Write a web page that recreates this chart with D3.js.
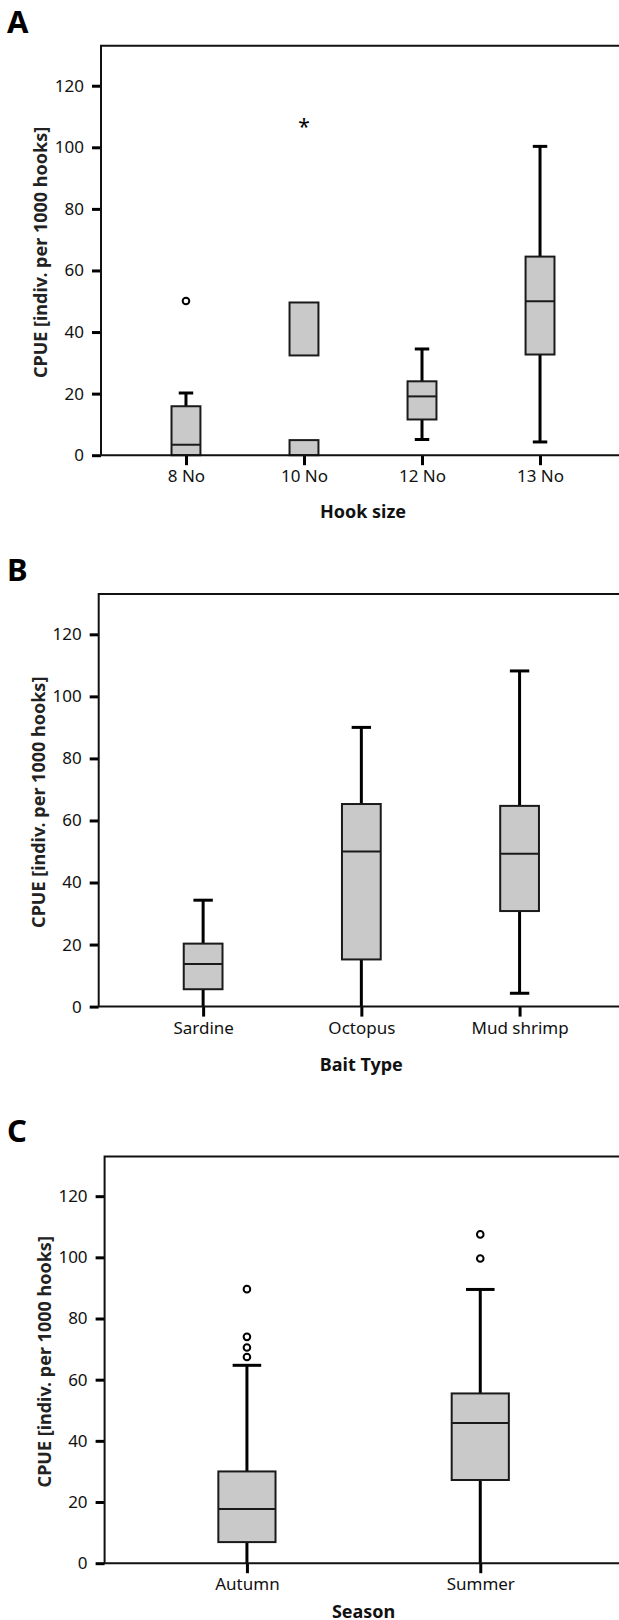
<!DOCTYPE html>
<html>
<head>
<meta charset="utf-8">
<script src="https://cdn.jsdelivr.net/npm/d3@7"></script>
<style>
  body { margin: 0; background: #fff; }
  svg { display: block; font-family: "Noto Sans", sans-serif; }
</style>
</head>
<body>
<svg id="chart" width="619" height="1620"></svg>
<script>
// panel A: hook size
var hookSizes = ["8 No", "10 No", "12 No", "13 No"];
var hookLow = [0, null, 5.1, 4.3];
var hookQ1 = [0, 0, 11.6, 32.7];
var hookMedian = [3.4, null, 19.1, 50];
var hookQ3 = [15.9, 4.9, 24.0, 64.5];
var hookHigh = [20.2, null, 34.5, 100.3];
var hookOutliers = [[50.1], [], [], []];
var hookExtremes = [[], [107.6], [], []];
// 10 No has a second, detached box
var hookExtraBox = [null, [32.4, 49.6], null, null];

// panel B: bait type
var baitTypes = ["Sardine", "Octopus", "Mud shrimp"];
var baitLow = [0, 0, 4.3];
var baitQ1 = [5.6, 15.2, 30.8];
var baitMedian = [13.7, 50, 49.3];
var baitQ3 = [20.3, 65.3, 64.7];
var baitHigh = [34.3, 90, 108.2];

// panel C: season
var seasons = ["Autumn", "Summer"];
var seasonLow = [0, 0];
var seasonQ1 = [6.9, 27.2];
var seasonMedian = [17.7, 45.8];
var seasonQ3 = [30.0, 55.5];
var seasonHigh = [64.7, 89.5];
var seasonOutliers = [[67.4, 70.5, 74.0, 89.6], [99.6, 107.5]];

var yTicks = [0, 20, 40, 60, 80, 100, 120];
var yTitle = "CPUE [indiv. per 1000 hooks]";

var svg = d3.select("#chart");

function makeBoxPlot(p) {
  var g = svg.append("g");
  var rows = p.cats.map(function (c, i) {
    return {
      cat: c,
      low: p.low[i],
      q1: p.q1[i],
      med: p.med[i],
      q3: p.q3[i],
      high: p.high[i],
      outliers: p.outliers ? p.outliers[i] : [],
      extremes: p.extremes ? p.extremes[i] : [],
      extra: p.extra ? p.extra[i] : null,
    };
  });

  var x = d3.scalePoint().domain(p.cats).range([p.left, p.right]).padding(p.pad);
  var y = d3.scaleLinear().domain([0, 133]).range([p.bottom, p.top]);
  var bw = x.step() * 0.245;
  var cw = bw / 2;

  // y axis ticks + labels
  g.append("g")
    .attr("transform", "translate(" + p.left + ",0)")
    .call(d3.axisLeft(y).tickValues(yTicks).tickSize(9).tickPadding(8))
    .call(function (a) {
      a.select(".domain").remove();
      a.selectAll(".tick line").attr("stroke", "#000").attr("stroke-width", 3);
      a.selectAll(".tick text")
        .attr("fill", "#111")
        .style("font-size", "17px")
        .style("font-family", "'Noto Sans', sans-serif");
    });

  // x axis ticks + labels
  g.append("g")
    .attr("transform", "translate(0," + p.bottom + ")")
    .call(d3.axisBottom(x).tickSize(10).tickPadding(5))
    .call(function (a) {
      a.select(".domain").remove();
      a.selectAll(".tick line").attr("stroke", "#000").attr("stroke-width", 3);
      a.selectAll(".tick text")
        .attr("fill", "#111")
        .style("font-size", "17px")
        .style("font-family", "'Noto Sans', sans-serif");
    });

  var box = g.selectAll(".box").data(rows).enter().append("g").classed("box", true);

  // whiskers
  box.filter((d) => d.high != null && d.high > d.q3)
    .append("line")
    .attr("x1", (d) => x(d.cat)).attr("x2", (d) => x(d.cat))
    .attr("y1", (d) => y(d.q3)).attr("y2", (d) => y(d.high))
    .attr("stroke", "#000").attr("stroke-width", 3);
  box.filter((d) => d.high != null && d.high > d.q3)
    .append("line")
    .attr("x1", (d) => x(d.cat) - cw / 2).attr("x2", (d) => x(d.cat) + cw / 2)
    .attr("y1", (d) => y(d.high)).attr("y2", (d) => y(d.high))
    .attr("stroke", "#000").attr("stroke-width", 3);
  box.filter((d) => d.low != null && d.low < d.q1)
    .append("line")
    .attr("x1", (d) => x(d.cat)).attr("x2", (d) => x(d.cat))
    .attr("y1", (d) => y(d.q1)).attr("y2", (d) => y(d.low))
    .attr("stroke", "#000").attr("stroke-width", 3);
  box.filter((d) => d.low != null && d.low > 0 && d.low < d.q1)
    .append("line")
    .attr("x1", (d) => x(d.cat) - cw / 2).attr("x2", (d) => x(d.cat) + cw / 2)
    .attr("y1", (d) => y(d.low)).attr("y2", (d) => y(d.low))
    .attr("stroke", "#000").attr("stroke-width", 3);

  // boxes
  box.append("rect")
    .attr("x", (d) => x(d.cat) - bw / 2)
    .attr("width", bw)
    .attr("y", (d) => y(d.q3))
    .attr("height", (d) => y(d.q1) - y(d.q3))
    .attr("fill", "#c9c9c9")
    .attr("stroke", "#1a1a1a")
    .attr("stroke-width", 2);
  box.filter((d) => d.extra)
    .append("rect")
    .attr("x", (d) => x(d.cat) - bw / 2)
    .attr("width", bw)
    .attr("y", (d) => y(d.extra[1]))
    .attr("height", (d) => y(d.extra[0]) - y(d.extra[1]))
    .attr("fill", "#c9c9c9")
    .attr("stroke", "#1a1a1a")
    .attr("stroke-width", 2);
  box.filter((d) => d.med != null)
    .append("line")
    .attr("x1", (d) => x(d.cat) - bw / 2).attr("x2", (d) => x(d.cat) + bw / 2)
    .attr("y1", (d) => y(d.med)).attr("y2", (d) => y(d.med))
    .attr("stroke", "#1a1a1a").attr("stroke-width", 2);

  // outliers (circles) and extremes (asterisks)
  box.selectAll(".outlier")
    .data((d) => d.outliers.map((v) => ({ cat: d.cat, v: v })))
    .enter().append("circle")
    .classed("outlier", true)
    .attr("cx", (d) => x(d.cat)).attr("cy", (d) => y(d.v))
    .attr("r", 3.3)
    .attr("fill", "#fff").attr("stroke", "#000").attr("stroke-width", 2);
  box.selectAll(".extreme")
    .data((d) => d.extremes.map((v) => ({ cat: d.cat, v: v })))
    .enter().append("text")
    .classed("extreme", true)
    .attr("x", (d) => x(d.cat)).attr("y", (d) => y(d.v) + 10)
    .attr("text-anchor", "middle")
    .style("font-size", "21px")
    .text("*");

  // frame (right side runs off the page)
  g.append("path")
    .attr("d", "M" + (p.right + 40) + "," + p.top + "H" + p.left + "V" + p.bottom + "H" + (p.right + 40))
    .attr("fill", "none").attr("stroke", "#111").attr("stroke-width", 2);

  // titles
  g.append("text")
    .attr("transform", "translate(" + (p.left - 60) + "," + ((p.top + p.bottom) / 2 + 2) + ") rotate(-90)")
    .attr("text-anchor", "middle")
    .attr("dy", "0.35em")
    .attr("fill", "#222")
    .style("font-size", "18px").style("font-weight", "bold")
    .text(yTitle);
  g.append("text")
    .attr("x", (p.left + p.right) / 2)
    .attr("y", p.bottom + p.titleGap)
    .attr("dy", "0.35em")
    .attr("text-anchor", "middle")
    .attr("fill", "#111")
    .style("font-size", "18px").style("font-weight", "bold")
    .text(p.xTitle);
  g.append("text")
    .attr("x", 7).attr("y", p.letterY)
    .style("font-size", "31px").style("font-weight", "bold")
    .text(p.letter);
}

makeBoxPlot({
  letter: "A", letterY: 33, xTitle: "Hook size", titleGap: 56,
  left: 101, right: 625, top: 45.7, bottom: 455.2, pad: 0.72,
  cats: hookSizes, low: hookLow, q1: hookQ1, med: hookMedian, q3: hookQ3, high: hookHigh,
  outliers: hookOutliers, extremes: hookExtremes, extra: hookExtraBox,
});
makeBoxPlot({
  letter: "B", letterY: 581, xTitle: "Bait Type", titleGap: 58.4,
  left: 98.7, right: 624, top: 594, bottom: 1006.6, pad: 0.66,
  cats: baitTypes, low: baitLow, q1: baitQ1, med: baitMedian, q3: baitQ3, high: baitHigh,
});
makeBoxPlot({
  letter: "C", letterY: 1142, xTitle: "Season", titleGap: 48,
  left: 104.6, right: 622.6, top: 1156.4, bottom: 1563.2, pad: 0.61,
  cats: seasons, low: seasonLow, q1: seasonQ1, med: seasonMedian, q3: seasonQ3, high: seasonHigh,
  outliers: seasonOutliers,
});
</script>
</body>
</html>
